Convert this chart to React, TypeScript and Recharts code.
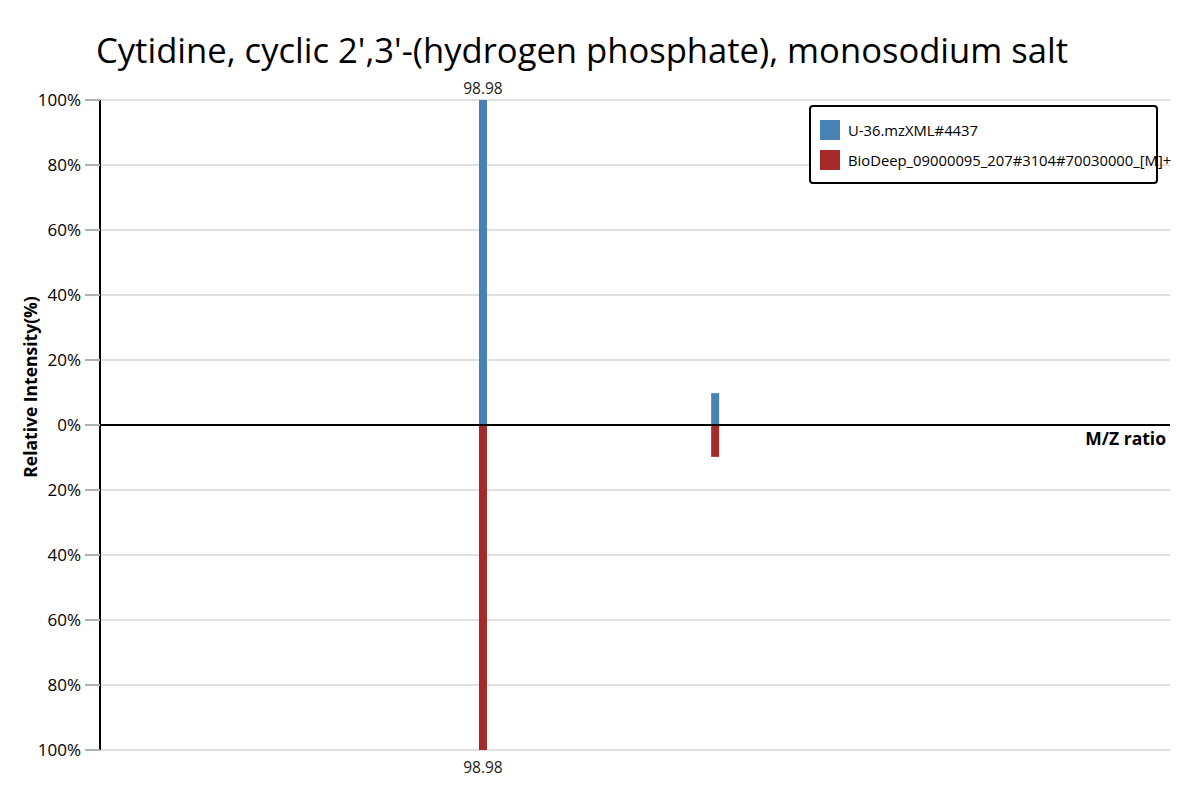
import React from "react";
import {
  ComposedChart,
  Bar,
  XAxis,
  YAxis,
  CartesianGrid,
  ReferenceLine,
  LabelList,
} from "recharts";

const mzValues = [98.98, 122.85];
const queryIntensity = [100, 9.8];
const libraryIntensity = [100, 9.8];
const peakLabels = ["98.98", ""];
const yTicks = [-100, -80, -60, -40, -20, 0, 20, 40, 60, 80, 100];
const xDomain = [59.6, 169.6];
const seriesNames = ["U-36.mzXML#4437", "BioDeep_09000095_207#3104#70030000_[M]+"];
const seriesColors = ["#4682B4", "#A52A2A"];
const titleText = "Cytidine, cyclic 2',3'-(hydrogen phosphate), monosodium salt";

const data = mzValues.map((mz, i) => ({
  mz,
  query: queryIntensity[i],
  library: -libraryIntensity[i],
  tag: peakLabels[i],
}));

const FONT = "'Open Sans', 'Noto Sans', sans-serif";

function LegendBox() {
  return (
    <div
      style={{
        position: "absolute",
        left: 801,
        top: 97,
        width: 349,
        height: 79,
        border: "2px solid #000",
        borderRadius: 4,
        background: "#fff",
        fontFamily: FONT,
        fontSize: 14.8,
        color: "#000",
        boxSizing: "border-box",
      }}
    >
      {seriesNames.map((n, i) => (
        <div
          key={n}
          style={{
            position: "absolute",
            left: 9,
            top: 13 + i * 30,
            display: "flex",
            alignItems: "center",
            whiteSpace: "nowrap",
          }}
        >
          <span
            style={{
              display: "inline-block",
              width: 20,
              height: 20,
              background: seriesColors[i],
              marginRight: 8,
            }}
          />
          <span>{n}</span>
        </div>
      ))}
    </div>
  );
}

export default function App() {
  return (
    <div style={{ position: "relative", width: 1184, height: 784 }}>
      <div
        style={{
          position: "absolute",
          left: 88,
          top: 18,
          fontFamily: FONT,
          fontSize: 34.6,
          color: "#000",
          whiteSpace: "nowrap",
        }}
      >
        {titleText}
      </div>
      <ComposedChart
        width={1184}
        height={784}
        data={data}
        stackOffset="sign"
        margin={{ top: 92, right: 22, bottom: 42, left: 32 }}
      >
        <CartesianGrid vertical={false} stroke="#e0e0e0" strokeWidth={2} />
        <XAxis
          dataKey="mz"
          type="number"
          domain={xDomain}
          allowDataOverflow
          hide
        />
        <YAxis
          type="number"
          domain={[-100, 100]}
          ticks={yTicks}
          width={60}
          interval={0}
          tickSize={15}
          tickMargin={4}
          tickLine={{ stroke: "#b0b0b0", strokeWidth: 2 }}
          axisLine={{ stroke: "#000", strokeWidth: 2 }}
          tick={{ fontFamily: FONT, fontSize: 17, fill: "#000" }}
          tickFormatter={(v: number) => `${Math.abs(v)}%`}
        />
        <ReferenceLine y={0} stroke="#000" strokeWidth={2} />
        <Bar
          dataKey="query"
          stackId="s"
          barSize={8}
          fill={seriesColors[0]}
          isAnimationActive={false}
        >
          <LabelList
            dataKey="tag"
            position="top"
            offset={6}
            fontFamily={FONT}
            fontSize={15.5}
            fill="#222"
          />
        </Bar>
        <Bar
          dataKey="library"
          stackId="s"
          barSize={8}
          fill={seriesColors[1]}
          isAnimationActive={false}
        >
          <LabelList
            dataKey="tag"
            position="top"
            offset={12}
            fontFamily={FONT}
            fontSize={15.5}
            fill="#222"
          />
        </Bar>
      </ComposedChart>
      <div
        style={{
          position: "absolute",
          left: 22,
          top: 379,
          transform: "translate(-50%, -50%) rotate(-90deg)",
          fontFamily: FONT,
          fontWeight: "bold",
          fontSize: 17.5,
          whiteSpace: "nowrap",
        }}
      >
        Relative Intensity(%)
      </div>
      <div
        style={{
          position: "absolute",
          right: 26,
          top: 418,
          fontFamily: FONT,
          fontWeight: "bold",
          fontSize: 17.5,
          whiteSpace: "nowrap",
        }}
      >
        M/Z ratio
      </div>
      <LegendBox />
    </div>
  );
}
